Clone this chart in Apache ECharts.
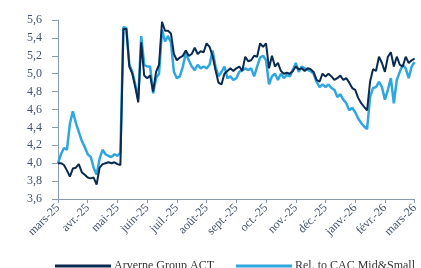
<!DOCTYPE html>
<html>
<head>
<meta charset="utf-8">
<script src="https://cdn.jsdelivr.net/npm/echarts@6/dist/echarts.min.js"></script>
<style>
  html, body { margin: 0; padding: 0; background: #fff; }
  #main { width: 421px; height: 268px; }
</style>
</head>
<body>
<div id="main"></div>
<script>
// mois (ticks), 10 points par mois
var monthLabels = ['mars-25', 'avr.-25', 'mai-25', 'juin-25', 'juil.-25', 'août-25', 'sept.-25',
                   'oct.-25', 'nov.-25', 'déc.-25', 'janv.-26', 'févr.-26', 'mars-26'];

var arverne = [
  4.00, 4.00, 3.98, 3.92, 3.85, 3.94, 3.95, 3.99, 3.90, 3.87,   // mars
  3.84, 3.83, 3.84, 3.76, 3.95, 3.99, 4.00, 4.01, 4.00, 4.01,   // avr
  3.99, 3.98, 5.50, 5.50, 5.08, 5.00, 4.85, 4.68, 5.35, 4.98,   // mai
  4.95, 4.98, 4.80, 5.02, 5.10, 5.58, 5.48, 5.48, 5.45, 5.22,   // juin
  5.15, 5.18, 5.20, 5.26, 5.20, 5.22, 5.29, 5.22, 5.25, 5.24,   // juil
  5.34, 5.30, 5.20, 5.04, 4.90, 4.88, 5.00, 5.03, 5.06, 5.03,   // août
  5.06, 5.08, 5.03, 5.19, 5.14, 5.15, 5.20, 5.19, 5.34, 5.30,   // sept
  5.34, 5.06, 5.20, 5.08, 5.12, 5.03, 5.00, 5.01, 5.00, 5.03,   // oct
  5.08, 5.05, 5.06, 5.03, 5.06, 5.05, 5.02, 4.93, 4.91, 5.00,   // nov
  4.97, 5.00, 4.97, 4.93, 4.95, 4.98, 4.93, 4.95, 4.90, 4.84,   // déc
  4.82, 4.73, 4.67, 4.63, 4.59, 4.91, 5.05, 5.03, 5.19, 5.12,   // janv
  5.02, 5.19, 5.24, 5.08, 5.19, 5.10, 5.08, 5.19, 5.12, 5.15,   // févr
  5.17
];

var relCac = [
  4.00, 4.10, 4.17, 4.15, 4.44, 4.58, 4.45, 4.35, 4.25, 4.18,
  4.10, 4.07, 3.95, 3.87, 4.05, 4.15, 4.10, 4.08, 4.07, 4.10,
  4.08, 4.12, 5.52, 5.51, 5.10, 5.02, 4.88, 4.72, 5.42, 5.10,
  5.08, 5.08, 4.78, 4.95, 5.00, 5.49, 5.36, 5.42, 5.35, 5.02,
  4.95, 4.97, 5.08, 5.23, 5.15, 5.08, 5.04, 5.10, 5.06, 5.08,
  5.06, 5.10, 5.26, 5.08, 4.97, 5.02, 5.08, 4.95, 4.97, 4.93,
  4.95, 5.02, 5.04, 5.06, 5.04, 5.06, 4.97, 5.08, 5.18, 5.20,
  5.15, 4.88, 4.97, 5.00, 4.93, 5.00, 4.95, 4.99, 4.97, 5.04,
  5.12, 5.02, 5.08, 5.06, 5.04, 5.03, 5.00, 4.91, 4.85, 4.88,
  4.85, 4.88, 4.84, 4.82, 4.74, 4.77, 4.71, 4.67, 4.59, 4.62,
  4.57, 4.50, 4.45, 4.41, 4.38, 4.74, 4.84, 4.85, 4.91, 4.85,
  4.71, 4.82, 4.95, 4.67, 4.93, 5.02, 5.10, 5.06, 4.95, 5.08,
  5.13
];

function pairs(arr) {
  return arr.map(function (v, i) { return [i, v]; });
}

var textColor = '#44546a';
var axisColor = '#8a9bb0';
var font = 'Liberation Serif';

var myChart = echarts.init(document.getElementById('main'));

var option = {
  animation: false,
  grid: { left: 58, right: 1, top: 20, bottom: 69, containLabel: false },
  legend: {
    left: 50,
    top: 255,
    icon: 'rect',
    itemWidth: 56,
    itemHeight: 3,
    itemGap: 22,
    textStyle: { fontFamily: font, fontSize: 12, color: '#333', padding: [0, 0, 0, -2] },
    data: ['Arverne Group ACT', 'Rel. to CAC Mid&Small']
  },
  xAxis: {
    type: 'value',
    min: 0,
    max: 120,
    interval: 10,
    splitLine: { show: false },
    axisLine: { show: true, lineStyle: { color: axisColor, width: 1 } },
    axisTick: { show: true, length: 4, lineStyle: { color: axisColor } },
    axisLabel: {
      rotate: 45,
      margin: 7,
      fontFamily: font,
      fontSize: 12,
      color: textColor,
      showMinLabel: true,
      showMaxLabel: true,
      formatter: function (v) { return monthLabels[Math.round(v / 10)]; }
    }
  },
  yAxis: {
    type: 'value',
    min: 3.6,
    max: 5.6,
    interval: 0.2,
    splitLine: { show: false },
    axisLine: { show: true, lineStyle: { color: axisColor, width: 1 } },
    axisTick: { show: true, length: 6, lineStyle: { color: axisColor } },
    axisLabel: {
      margin: 16,
      fontFamily: font,
      fontSize: 12,
      color: textColor,
      formatter: function (v) { return v.toFixed(1).replace('.', ','); }
    }
  },
  series: [
    {
      name: 'Arverne Group ACT',
      type: 'line',
      data: pairs(arverne),
      showSymbol: false,
      z: 3,
      lineStyle: { color: '#0b2a4f', width: 2 },
      itemStyle: { color: '#0b2a4f' }
    },
    {
      name: 'Rel. to CAC Mid&Small',
      type: 'line',
      data: pairs(relCac),
      showSymbol: false,
      z: 2,
      lineStyle: { color: '#2fa6e0', width: 2.5 },
      itemStyle: { color: '#2fa6e0' }
    }
  ]
};

myChart.setOption(option);
</script>
</body>
</html>
